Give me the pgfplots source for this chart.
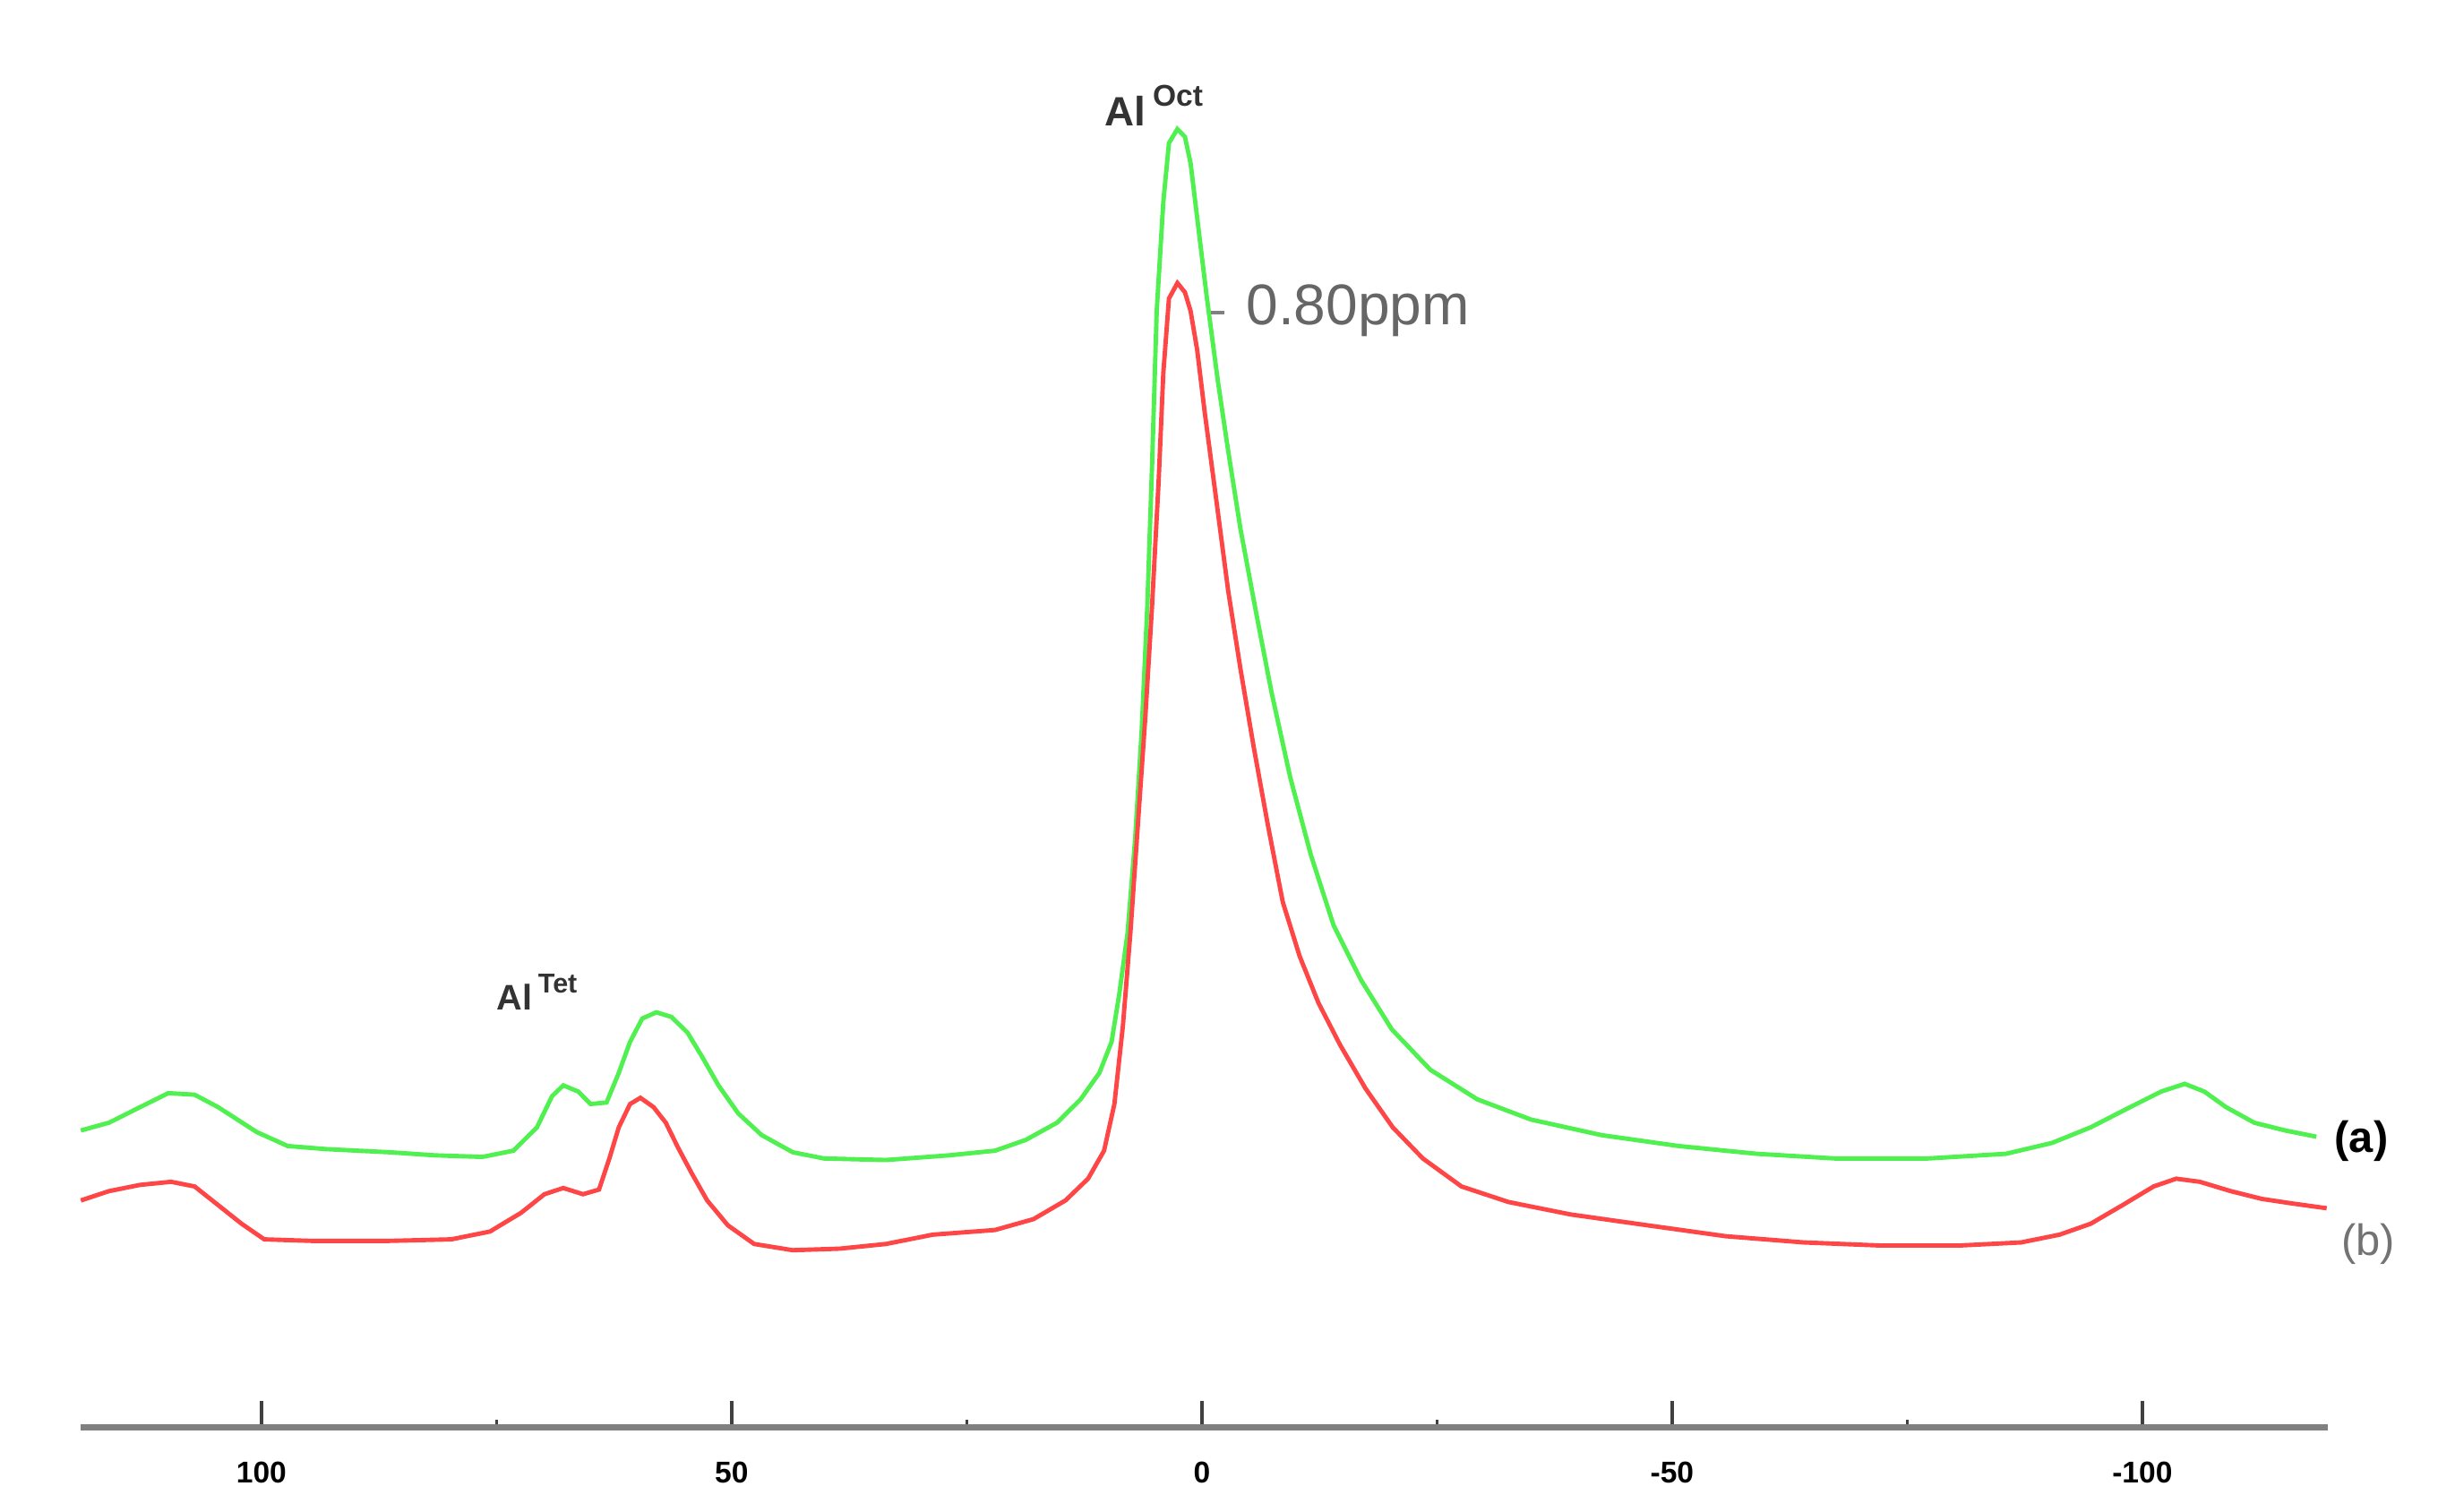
\documentclass[border=0pt]{standalone}
\usepackage{fontspec}
\setmainfont{Liberation Sans}
\usepackage{pgfplots}
\pgfplotsset{compat=1.18}
\definecolor{specgreen}{RGB}{80,240,80}
\definecolor{specred}{RGB}{255,70,70}
\begin{document}
\begin{tikzpicture}
\useasboundingbox (0,0) rectangle (15.68cm,9.72cm);
\begin{axis}[
  at={(0.52cm,0.54cm)}, anchor=south west,
  scale only axis, width=14.45cm, height=8.88cm,
  x dir=reverse,
  xmin=-119.7, xmax=119.2, ymin=0, ymax=888,
  axis x line*=bottom, axis y line=none,
  x axis line style={draw=gray, line width=1.1pt, -},
  xtick={-100,-50,0,50,100},
  xticklabels={-100,-50,0,50,100},
  minor x tick num=1,
  tick align=inside,
  major tick length=0.17cm, minor tick length=0.05cm,
  every tick/.style={black!75, line width=0.6pt},
  xticklabel style={font=\fontsize{5.5}{6}\selectfont\bfseries, yshift=-0.1cm},
  clip=false,
]
\addplot[specgreen, line width=0.8pt] coordinates {
(119.2,191) (116.2,196) (112.9,206) (109.9,215) (107.1,214) (104.6,206)
(100.5,190) (97.2,181) (93.1,179) (86.4,177) (81.5,175) (76.5,174)
(73.2,178) (70.7,193) (69.1,213) (67.9,220) (66.3,216) (65.0,208)
(63.3,209) (62.0,228) (60.8,248) (59.5,263) (58.0,267) (56.4,264)
(54.7,254) (53.1,238) (51.4,220) (49.3,202) (46.8,188) (43.5,177)
(40.2,173) (33.6,172) (26.9,175) (22.0,178) (18.7,185) (15.4,196)
(12.9,211) (10.9,228) (9.6,248) (8.8,278) (7.9,318) (7.1,378)
(6.4,448) (5.8,528) (5.3,618) (4.8,718) (4.1,788) (3.5,826)
(2.6,835) (1.8,830) (1.2,813) (0.5,778) (-0.5,728) (-1.7,673)
(-2.8,628) (-4.1,578) (-5.8,523) (-7.4,473) (-9.4,418) (-11.6,368)
(-14.0,323) (-16.9,288) (-20.2,256) (-24.3,230) (-29.3,211) (-35.0,198)
(-42.5,188) (-50.7,181) (-59.0,176) (-67.3,173) (-77.2,173) (-85.5,176)
(-90.4,183) (-94.5,193) (-98.7,206) (-102.0,216) (-104.5,221) (-106.6,216)
(-108.9,206) (-111.9,196) (-115.2,191) (-118.5,187)
};
\addplot[specred, line width=0.8pt] coordinates {
(119.2,146) (116.2,152) (112.9,156) (109.6,158) (107.1,155) (104.6,143)
(102.1,131) (99.7,121) (94.7,120) (86.4,120) (79.8,121) (75.7,126)
(72.4,138) (69.9,150) (67.9,154) (65.8,150) (64.1,153) (63.0,173)
(62.0,193) (60.8,208) (59.7,212) (58.3,206) (57.0,196) (55.7,180)
(54.2,163) (52.6,146) (50.4,130) (47.6,118) (43.5,114) (38.5,115)
(33.6,118) (28.6,124) (22.0,127) (17.9,134) (14.5,146) (12.1,160)
(10.4,178) (9.3,208) (8.4,258) (7.6,318) (6.8,388) (6.0,458)
(5.3,528) (4.6,608) (4.1,678) (3.5,726) (2.6,736) (1.8,730)
(1.2,718) (0.5,693) (-0.3,653) (-1.5,598) (-2.8,538) (-4.1,488)
(-5.5,438) (-7.0,388) (-8.6,338) (-10.4,303) (-12.4,273) (-14.7,246)
(-17.4,218) (-20.3,193) (-23.5,173) (-27.6,155) (-32.6,145) (-39.2,137)
(-47.4,130) (-55.7,123) (-64.0,119) (-72.2,117) (-80.5,117) (-87.1,119)
(-91.2,124) (-94.5,131) (-97.9,143) (-101.2,155) (-103.6,160) (-106.1,158)
(-109.4,152) (-112.7,147) (-116.0,144) (-119.6,141)
};
\draw[gray, line width=0.6pt] (axis cs:-1.0,717) -- (axis cs:-2.4,717);
\node[anchor=west, inner sep=0pt, text=black!60, font=\fontsize{10.5}{12}\selectfont] at (axis cs:-4.6,718) {0.80ppm};
\node[inner sep=0pt, font=\fontsize{7.5}{8}\selectfont\bfseries, text=black!80] at (axis cs:5.1,850) {Al\raisebox{0.9ex}{\,\fontsize{5.5}{6}\selectfont Oct}};
\node[inner sep=0pt, font=\fontsize{6.5}{7}\selectfont\bfseries, text=black!80] at (axis cs:70.7,280) {Al\raisebox{0.9ex}{\,\fontsize{5}{6}\selectfont Tet}};
\node[inner sep=0pt, font=\fontsize{8}{9}\selectfont\bfseries] at (axis cs:-123.3,184) {(a)};
\node[inner sep=0pt, font=\fontsize{8}{9}\selectfont, text=black!55] at (axis cs:-124.0,118) {(b)};
\end{axis}
\end{tikzpicture}
\end{document}
